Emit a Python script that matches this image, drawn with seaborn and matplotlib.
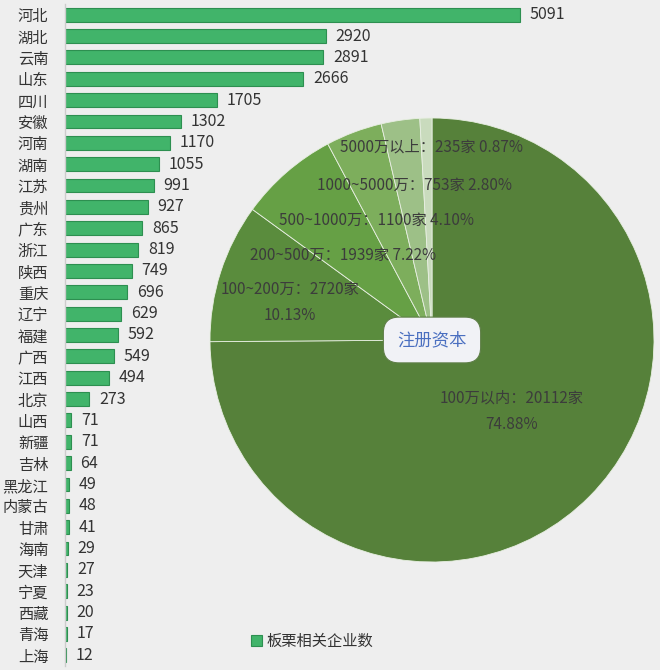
import matplotlib
matplotlib.use('Agg')
import matplotlib.pyplot as plt
import seaborn as sns
import pandas as pd

# Data
provinces = ['河北', '湖北', '云南', '山东', '四川', '安徽', '河南', '湖南', '江苏', '贵州', '广东',
             '浙江', '陕西', '重庆', '辽宁', '福建', '广西', '江西', '北京', '山西', '新疆', '吉林',
             '黑龙江', '内蒙古', '甘肃', '海南', '天津', '宁夏', '西藏', '青海', '上海']
counts = [5091, 2920, 2891, 2666, 1705, 1302, 1170, 1055, 991, 927, 865, 819, 749, 696, 629,
          592, 549, 494, 273, 71, 71, 64, 49, 48, 41, 29, 27, 23, 20, 17, 12]

capital_names = ['100万以内', '100~200万', '200~500万', '500~1000万', '1000~5000万', '5000万以上']
capital_counts = [20112, 2720, 1939, 1100, 753, 235]
capital_pcts = ['74.88%', '10.13%', '7.22%', '4.10%', '2.80%', '0.87%']

# Styling
pie_colors = ['#56813a', '#5a8c3d', '#66a045', '#7dae5c', '#9dc087', '#c9dbbd']
label_pos = [(0.36, -0.32), (-0.64, 0.17), (-0.40, 0.383), (-0.248, 0.541), (-0.081, 0.698), (0.0, 0.869)]
bg = '#eeeeee'

sns.set_style('white')
plt.rcParams['font.family'] = ['Noto Sans CJK SC', 'DejaVu Sans']

df = pd.DataFrame({'province': provinces, 'count': counts})

fig = plt.figure(figsize=(6.6, 6.7), dpi=100)
fig.patch.set_facecolor(bg)

# Bar chart
ax = fig.add_axes([65 / 660, 4 / 670, 595 / 660, 662 / 670])
ax.set_facecolor(bg)
sns.barplot(data=df, y='province', x='count', orient='h', color='#41b46a', width=0.65,
            edgecolor='#2d8f50', linewidth=0.8, saturation=1, ax=ax, label='板栗相关企业数')
ax.set_xlim(0, 5091 * 595 / 455)
ax.set_ylim(len(provinces) - 0.5, -0.5)
ax.bar_label(ax.containers[0], labels=[str(v) for v in counts], padding=7,
             fontsize=11.5, color='#333333')
ax.set_xlabel('')
ax.set_ylabel('')
ax.set_xticks([])
ax.tick_params(axis='y', length=0, pad=12, labelsize=11, labelcolor='#333333')
for s in ['top', 'right', 'bottom']:
    ax.spines[s].set_visible(False)
ax.spines['left'].set_color('#cccccc')
ax.spines['left'].set_linewidth(1)
ax.legend(loc='center', bbox_to_anchor=(312 / 660, 29 / 670), bbox_transform=fig.transFigure,
          frameon=False, fontsize=11, handlelength=0.7, handleheight=0.7, handletextpad=0.3,
          labelcolor='#333333')

# Pie chart
pax = fig.add_axes([210 / 660, 108 / 670, 444 / 660, 444 / 670])
pax.pie(capital_counts, colors=pie_colors, startangle=90, counterclock=False,
        wedgeprops={'edgecolor': '#e8efe2', 'linewidth': 0.6})
pax.set_xlim(-1, 1)
pax.set_ylim(-1, 1)

for name, n, pct, (x, y) in zip(capital_names, capital_counts, capital_pcts, label_pos):
    if name in ('100万以内', '100~200万'):
        txt = f'{name}：{n}家\n{pct}'
        pax.text(x, y, txt, ha='center', va='center', fontsize=11, color='#3c3c3c',
                 linespacing=1.7)
    else:
        pax.text(x, y, f'{name}：{n}家 {pct}', ha='center', va='center', fontsize=11,
                 color='#3c3c3c')

pax.text(0, 0, '注册资本', ha='center', va='center', fontsize=12.5, color='#4a6fc0',
         bbox=dict(boxstyle='round,pad=0.8,rounding_size=0.9', fc='#f1f2f6', ec='#5f7f48', lw=0.8))

fig.savefig('out.png', dpi=100, facecolor=bg)
